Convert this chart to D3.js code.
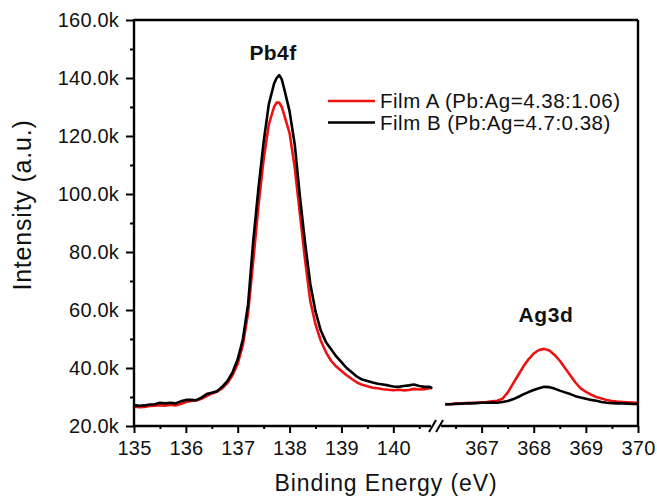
<!DOCTYPE html>
<html>
<head>
<meta charset="utf-8">
<script src="https://cdn.jsdelivr.net/npm/d3@7"></script>
<style>
    body { margin: 0; background: #ffffff; }
    svg { display: block; font-family: "Liberation Sans", Arial, sans-serif; }
    .tick text { font-size: 20px; letter-spacing: 0.2px; fill: #111; }
    .axis path { display: none; }
    .axis line { stroke: #000; stroke-width: 2; }
</style>
</head>
<body>
<div id="chart"></div>
<script>
// Pb4f region (left segment of the broken axis)
const energyPb = [135.0, 135.1, 135.2, 135.3, 135.4, 135.5, 135.6, 135.7, 135.8, 135.9,
    136.0, 136.1, 136.2, 136.3, 136.4, 136.5, 136.6, 136.7, 136.8, 136.9,
    137.0, 137.1, 137.2, 137.3, 137.4, 137.5, 137.6, 137.7, 137.75, 137.8,
    137.85, 137.9, 138.0, 138.1, 138.2, 138.3, 138.4, 138.5, 138.6, 138.7,
    138.8, 138.9, 139.0, 139.1, 139.2, 139.3, 139.4, 139.5, 139.6, 139.7,
    139.8, 139.9, 140.0, 140.1, 140.2, 140.3, 140.4, 140.5, 140.6, 140.7, 140.75];
const filmAPb = [26.7, 26.5, 26.6, 26.9, 27.0, 27.2, 27.0, 27.3, 27.1, 27.6,
    28.3, 28.6, 28.8, 29.4, 30.3, 31.2, 31.8, 33.0, 34.8, 37.5,
    41.5, 48.0, 59.0, 77.0, 96.0, 112.0, 124.0, 130.0, 131.5, 131.5,
    130.0, 127.0, 121.0, 109.0, 93.0, 77.0, 63.0, 55.0, 49.5, 45.5,
    42.5, 40.5, 39.0, 37.5, 36.2, 35.0, 34.2, 33.7, 33.2, 33.0,
    32.7, 32.5, 32.3, 32.5, 32.3, 32.4, 32.8, 32.6, 32.7, 33.0, 33.2];
const filmBPb = [27.2, 27.0, 27.1, 27.4, 27.5, 28.0, 27.8, 28.0, 27.8, 28.5,
    29.0, 29.0, 28.9, 29.8, 31.0, 31.5, 32.0, 33.5, 35.5, 38.5,
    43.0, 50.0, 62.0, 84.0, 102.0, 118.0, 131.0, 138.0, 140.0, 141.0,
    139.5, 136.0, 128.5, 117.0, 99.0, 83.0, 69.0, 59.5, 53.0, 49.0,
    46.5, 44.0, 42.0, 40.0, 38.5, 37.0, 36.0, 35.5, 35.0, 34.6,
    34.3, 34.0, 33.6, 33.5, 33.8, 34.0, 34.3, 33.8, 33.5, 33.5, 33.0];

// Ag3d region (right segment)
const energyAg = [366.3, 366.4, 366.5, 366.6, 366.7, 366.8, 366.9, 367.0, 367.1, 367.2,
    367.3, 367.4, 367.5, 367.6, 367.7, 367.8, 367.9, 368.0, 368.1, 368.2,
    368.3, 368.4, 368.5, 368.6, 368.7, 368.8, 368.9, 369.0, 369.1, 369.2,
    369.3, 369.4, 369.5, 369.6, 369.7, 369.8, 369.9, 370.0];
const filmAAg = [27.6, 27.5, 27.8, 27.7, 27.9, 28.0, 28.0, 28.2, 28.3, 28.5,
    28.7, 29.4, 31.5, 34.5, 37.5, 40.5, 43.0, 45.0, 46.2, 46.6,
    46.0, 44.5, 42.5, 40.0, 37.5, 35.0, 33.0, 31.8, 30.8, 30.0,
    29.5, 29.0, 28.6, 28.4, 28.3, 28.2, 28.1, 28.0];
const filmBAg = [27.4, 27.5, 27.6, 27.7, 27.8, 27.8, 27.9, 28.0, 28.0, 28.1,
    28.0, 28.3, 28.6, 29.2, 30.0, 30.9, 31.7, 32.4, 33.0, 33.5,
    33.4, 32.9, 32.2, 31.6, 31.0, 30.3, 29.8, 29.4, 29.0, 28.7,
    28.3, 28.0, 27.9, 27.8, 27.8, 27.7, 27.6, 27.6];

const yTicks = [20, 40, 60, 80, 100, 120, 140, 160];
const yMinor = [30, 50, 70, 90, 110, 130, 150];
const xTicksPb = [135, 136, 137, 138, 139, 140];
const xMinorPb = [135.5, 136.5, 137.5, 138.5, 139.5, 140.5];
const xTicksAg = [367, 368, 369, 370];
const xMinorAg = [366.5, 367.5, 368.5, 369.5];

const seriesNames = ["Film A (Pb:Ag=4.38:1.06)", "Film B (Pb:Ag=4.7:0.38)"];
const seriesColors = ["#ee1111", "#000000"];

const width = 657;
const height = 503;
const margin = { top: 20, right: 19, bottom: 77, left: 134 };
const plotRight = width - margin.right;
const plotBottom = height - margin.bottom;

const svg = d3.select("#chart")
    .append("svg")
    .attr("width", width)
    .attr("height", height);

svg.append("rect")
    .attr("width", width)
    .attr("height", height)
    .attr("fill", "#ffffff");

const y = d3.scaleLinear()
    .domain([20, 160])
    .range([plotBottom, margin.top]);

const xPb = d3.scaleLinear()
    .domain([135, 140.8])
    .range([margin.left, 434.8]);

const xAg = d3.scaleLinear()
    .domain([366.15, 370])
    .range([437.3, plotRight]);

// axes
svg.append("g")
    .attr("class", "axis")
    .attr("transform", `translate(${margin.left},0)`)
    .call(d3.axisLeft(y).tickValues(yMinor).tickSize(4).tickFormat(""));

svg.append("g")
    .attr("class", "axis")
    .attr("transform", `translate(${margin.left},0)`)
    .call(d3.axisLeft(y).tickValues(yTicks).tickSize(8).tickPadding(7)
        .tickFormat(d => `${d.toFixed(1)}k`));

[[xPb, xTicksPb, xMinorPb], [xAg, xTicksAg, xMinorAg]].forEach(([x, major, minor]) => {
    svg.append("g")
        .attr("class", "axis")
        .attr("transform", `translate(0,${plotBottom})`)
        .call(d3.axisBottom(x).tickValues(minor).tickSize(3).tickFormat(""));

    svg.append("g")
        .attr("class", "axis")
        .attr("transform", `translate(0,${plotBottom})`)
        .call(d3.axisBottom(x).tickValues(major).tickSize(7).tickPadding(8).tickFormat(d3.format("d")));
});

// curves
const lineA = d3.line().x(d => d.x).y(d => y(d.v));
const series = [[filmAPb, filmAAg], [filmBPb, filmBAg]];

series.forEach(([pb, ag], i) => {
    const pbPts = energyPb.map((e, j) => ({ x: xPb(e), v: pb[j] }));
    const agPts = energyAg.map((e, j) => ({ x: xAg(e), v: ag[j] }));
    [pbPts, agPts].forEach(pts => {
        svg.append("path")
            .datum(pts)
            .attr("fill", "none")
            .attr("stroke", seriesColors[i])
            .attr("stroke-width", 2.6)
            .attr("stroke-linejoin", "round")
            .attr("d", lineA);
    });
});

// frame
const breakX = (xPb.range()[1] + xAg.range()[0]) / 2;
const frame = svg.append("g")
    .attr("stroke", "#000")
    .attr("stroke-width", 2.4)
    .attr("fill", "none");

frame.append("line").attr("x1", margin.left).attr("x2", margin.left).attr("y1", margin.top - 1).attr("y2", plotBottom + 1);
frame.append("line").attr("x1", margin.left).attr("x2", plotRight).attr("y1", margin.top).attr("y2", margin.top);
frame.append("line").attr("x1", plotRight).attr("x2", plotRight).attr("y1", margin.top).attr("y2", plotBottom + 1);
frame.append("line").attr("x1", margin.left - 1).attr("x2", breakX - 5).attr("y1", plotBottom).attr("y2", plotBottom);
frame.append("line").attr("x1", breakX + 5).attr("x2", plotRight + 1).attr("y1", plotBottom).attr("y2", plotBottom);

[-3.5, 3.5].forEach(off => {
    frame.append("line")
        .attr("x1", breakX + off - 3.5).attr("y1", plotBottom + 6)
        .attr("x2", breakX + off + 3.5).attr("y2", plotBottom - 6)
        .attr("stroke-width", 2);
});

// axis titles
svg.append("text")
    .attr("x", 386)
    .attr("y", 491)
    .attr("text-anchor", "middle")
    .style("font-size", "23px")
    .style("letter-spacing", "0.9px")
    .attr("fill", "#111")
    .text("Binding Energy (eV)");

svg.append("text")
    .attr("transform", "translate(31,205) rotate(-90)")
    .attr("text-anchor", "middle")
    .style("font-size", "25px")
    .style("letter-spacing", "0.8px")
    .attr("fill", "#111")
    .text("Intensity (a.u.)");

// peak labels
svg.append("text")
    .attr("x", 273)
    .attr("y", 60)
    .attr("text-anchor", "middle")
    .style("font-size", "21px")
    .style("font-weight", "bold")
    .style("letter-spacing", "0.4px")
    .attr("fill", "#111")
    .text("Pb4f");

svg.append("text")
    .attr("x", 546)
    .attr("y", 322)
    .attr("text-anchor", "middle")
    .style("font-size", "21px")
    .style("font-weight", "bold")
    .style("letter-spacing", "0.6px")
    .attr("fill", "#111")
    .text("Ag3d");

// legend
const legend = svg.append("g")
    .attr("transform", "translate(328,101)");

const legendRow = legend.selectAll(".legend-row")
    .data(seriesNames)
    .enter()
    .append("g")
    .attr("transform", (_, i) => `translate(0,${i * 21.5})`);

legendRow.append("line")
    .attr("x1", 0)
    .attr("x2", 47)
    .attr("stroke", (_, i) => seriesColors[i])
    .attr("stroke-width", 2.6);

legendRow.append("text")
    .attr("x", 52)
    .attr("y", 7)
    .style("font-size", "20.5px")
    .style("letter-spacing", "0.5px")
    .attr("fill", "#111")
    .text(d => d);
</script>
</body>
</html>
